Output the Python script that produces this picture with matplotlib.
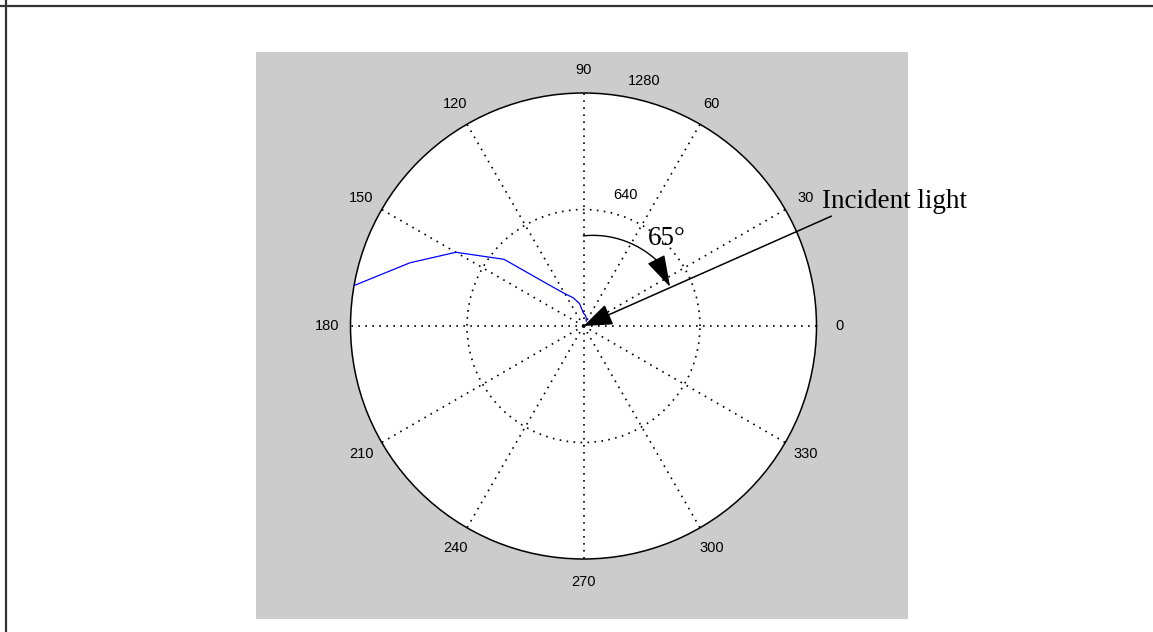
import numpy as np
import matplotlib
matplotlib.use("Agg")
import matplotlib.pyplot as plt
from matplotlib.lines import Line2D
from matplotlib.patches import Rectangle

# ---- data ----
theta_deg = [60, 70, 80, 90, 100, 110, 120, 130, 140, 150, 160, 170]
rho = [30, 45, 60, 70, 125, 165, 205, 295, 570, 810, 1015, 1280]
r_max = 1280
r_ticks = [640, 1280]
r_tick_labels = ["640", "1280"]
angle_ticks = [0, 30, 60, 90, 120, 150, 180, 210, 240, 270, 300, 330]
angle_labels = ["0", "30", "60", "90", "120", "150", "180", "210", "240", "270", "300", "330"]
incident_angle = 65  # degrees from vertical

W, H = 1153, 632
fig = plt.figure(figsize=(W / 100, H / 100), dpi=100)
fig.patch.set_facecolor("white")

# grey MATLAB-style axes background
fig.add_artist(Rectangle((256 / W, (H - 619) / H), 652 / W, 567 / H,
                         transform=fig.transFigure, facecolor="#cccccc",
                         edgecolor="none", zorder=0))
# frame lines (top and left)
fig.add_artist(Line2D([0, 1], [1 - 6 / H, 1 - 6 / H], transform=fig.transFigure,
                      color="#333333", lw=1.6))
fig.add_artist(Line2D([6 / W, 6 / W], [0, 1], transform=fig.transFigure,
                      color="#333333", lw=1.6))

cx, cy, R = 583.5, 326, 233
ax = fig.add_axes([(cx - R) / W, (H - cy - R) / H, 2 * R / W, 2 * R / H],
                  projection="polar")
ax.set_facecolor("white")
ax.set_theta_zero_location("E")
ax.set_ylim(0, r_max)
ax.set_thetagrids(angle_ticks)
ax.set_rgrids([r_ticks[0]])
ax.set_xticklabels([])
ax.set_yticklabels([])
ax.grid(True, color="black", linestyle=(0, (1, 3.2)), lw=1.2)
ax.spines["polar"].set_color("black")
ax.spines["polar"].set_linewidth(1.1)

lab_font = dict(family=["Liberation Sans", "DejaVu Sans"], fontsize=10.5, color="black")
for a, lab in zip(angle_ticks, angle_labels):
    ax.text(np.radians(a), 1.1 * r_max, lab, ha="center", va="center",
            clip_on=False, **lab_font)
ax.text(np.radians(77.3), 738, r_tick_labels[0], ha="left", va="center", **lab_font)
ax.text(np.radians(79.7), 1368, r_tick_labels[1], ha="left", va="center",
        clip_on=False, **lab_font)

# data curve
ax.plot(np.radians(theta_deg), rho, color="#0000ff", lw=0.9, zorder=3)

# incident light arrow
line_ang = 90 - incident_angle
ax.annotate("", xy=(0, 0), xytext=(np.radians(line_ang - 1.1), 1490),
            arrowprops=dict(arrowstyle="-|>,head_length=0.9,head_width=0.34",
                            mutation_scale=20, color="black", lw=1.1,
                            shrinkA=0, shrinkB=0),
            annotation_clip=False, zorder=5)

# curved angle arrow
arc_t = np.linspace(90, 42, 60)
arc_r = np.linspace(495, 540, 60)
ax.plot(np.radians(arc_t), arc_r, color="black", lw=1.0, zorder=5)
ax.annotate("", xy=(np.radians(line_ang - 0.7), 522), xytext=(np.radians(42), 540),
            arrowprops=dict(arrowstyle="-|>,head_length=1.0,head_width=0.3",
                            mutation_scale=20, color="black", lw=1.0,
                            shrinkA=0, shrinkB=0),
            annotation_clip=False, zorder=5)

serif = dict(family=["Liberation Serif", "DejaVu Serif"], fontsize=19.5, color="black")
ax.text(np.radians(51.5), 569, f"{incident_angle}°", ha="left", va="baseline", **serif)
ax.text(np.radians(26.3), 1462, "Incident light", ha="left", va="baseline",
        clip_on=False, **serif)

fig.savefig("out.png", dpi=100)
